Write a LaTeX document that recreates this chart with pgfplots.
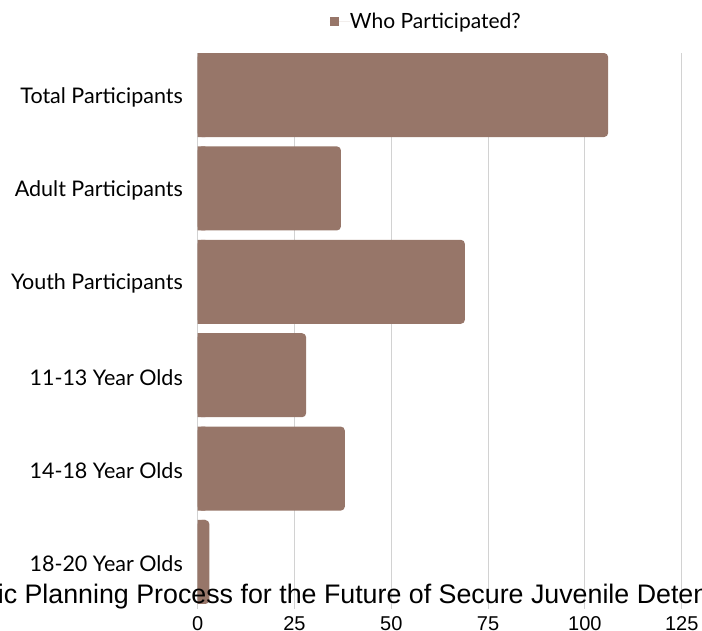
\documentclass[border=0pt]{standalone}
\usepackage{fontspec}
\setmainfont{Lato}
\newfontfamily\arialf{Liberation Sans}
\usepackage{pgfplots}
\pgfplotsset{compat=1.18}
\definecolor{barcol}{RGB}{151,118,105}
\definecolor{gridcol}{RGB}{210,210,210}
\begin{document}
\begin{tikzpicture}
\begin{axis}[
  at={(197.7pt,22.3pt)}, anchor=south west,
  scale only axis, width=484pt, height=555.7pt,
  xmin=0, xmax=125, ymin=-0.5, ymax=5.45,
  axis line style={draw=none},
  tick style={draw=none},
  xmajorgrids, grid style={gridcol, line width=1pt},
  xtick={0,25,50,75,100,125},
  ytick={0,1,2,3,4,5},
  yticklabels={18-20 Year Olds,14-18 Year Olds,11-13 Year Olds,Youth Participants,Adult Participants,Total Participants},
  /pgf/number format/assume math mode=true,
  xticklabel style={font=\arialf\fontsize{20}{24}\selectfont, inner sep=0pt, yshift=-8pt},
  yticklabel style={font=\fontsize{21.5}{25}\selectfont, inner sep=0pt, xshift=-14.7pt, yshift=-2pt},
  title={Strategic Planning Process for the Future of Secure Juvenile Detention},
  title style={font=\arialf\fontsize{26.8}{31}\selectfont, at={(0.2765,-0.0023)}, anchor=base, inner sep=0pt, yshift=0pt},
  legend style={at={(0.2733,1.0558)}, anchor=west, draw=none, fill=none, inner sep=0pt, outer sep=0pt,
    nodes={inner sep=0pt}, font=\fontsize{21}{24}\selectfont},
  legend image code/.code={\fill[barcol, sharp corners] (0pt,-4.5pt) rectangle (9pt,4.5pt); \path (0pt,0pt) -- (20pt,0pt);},
]
\addplot[xbar, bar width=84pt, bar shift=0pt, fill=barcol, draw=none, rounded corners=4pt]
  coordinates {(106,5) (37,4) (69,3) (28,2) (38,1) (3,0)};
\addlegendentry{Who Participated?}
\addplot[xbar, bar width=84pt, bar shift=0pt, fill=barcol, draw=none, forget plot]
  coordinates {(2,5) (2,4) (2,3) (2,2) (2,1) (2,0)};
\end{axis}
\pgfresetboundingbox
\path[use as bounding box] (0,0) rectangle (702pt,631pt);
\end{tikzpicture}
\end{document}
